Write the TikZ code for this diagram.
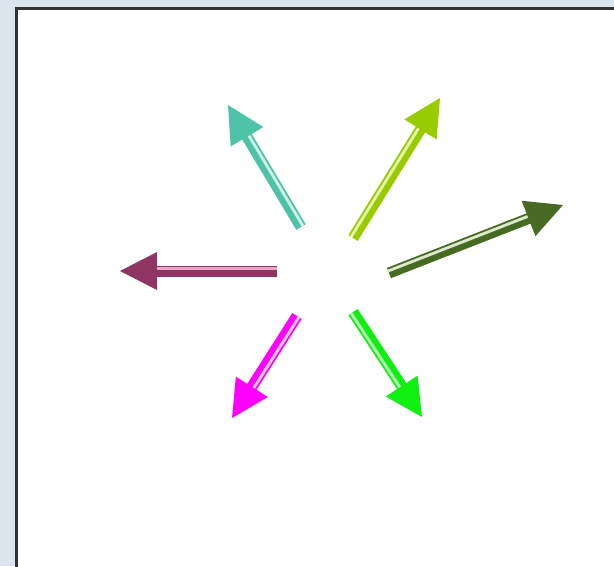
\documentclass[tikz,border=0pt]{standalone}
\usetikzlibrary{calc}
\definecolor{bgblue}{HTML}{DCE5EE}
\definecolor{framegray}{HTML}{333333}
\definecolor{cmaroon}{HTML}{8E3563}
\definecolor{smaroon}{HTML}{E9A6C8}
\definecolor{cteal}{HTML}{4EC3A8}
\definecolor{steal}{HTML}{CFF1E8}
\definecolor{clime}{HTML}{99CC00}
\definecolor{slime}{HTML}{E6F5B0}
\definecolor{cdark}{HTML}{476B23}
\definecolor{sdark}{HTML}{DDE9CF}
\definecolor{cmag}{HTML}{FF00FF}
\definecolor{smag}{HTML}{FFCCFF}
\definecolor{cgreen}{HTML}{11EE11}
\definecolor{sgreen}{HTML}{B8F8B8}
\tikzset{
  shaft/.style={line width=11pt, line cap=butt},
  stripe/.style={line width=2.8pt, line cap=butt},
  headtri/.style={draw=none},
  frame/.style={draw=framegray, line width=2.2pt, fill=white},
}
\begin{document}
\begin{tikzpicture}[x=1pt,y=-1pt]
\useasboundingbox (0,0) rectangle (614,566);
\clip (0,0) rectangle (614,566);
\fill[bgblue] (0,0) rectangle (614,566);
\path[frame] (16.5,8.5) rectangle (630,580);
\foreach \n/\tx/\ty/\hx/\hy/\c/\sc/\a in {
  1/277/271/120/271/cmaroon/smaroon/-90,
  2/301/227/228/105/cteal/steal/-90,
  3/353/238/440/98/clime/slime/90,
  4/389/273/563/205/cdark/sdark/90,
  5/297/316/232/418/cmag/smag/90,
  6/353/312/422/417/cgreen/sgreen/-90}{
  \coordinate (t\n) at (\tx,\ty);
  \coordinate (h\n) at (\hx,\hy);
  \coordinate (b\n) at ($(h\n)!37pt!(t\n)$);
  \coordinate (bb\n) at ($(h\n)!36pt!(t\n)$);
  \coordinate (l\n) at ($(b\n)!19pt!90:(h\n)$);
  \coordinate (r\n) at ($(b\n)!19pt!-90:(h\n)$);
  \coordinate (s\n) at ($(t\n)!2.2pt!\a:(h\n)$);
  \coordinate (e\n) at ($(bb\n)+(s\n)-(t\n)$);
  \draw[shaft, draw=\c] (t\n) -- (bb\n);
  \draw[stripe, draw=\sc] (s\n) -- (e\n);
  \fill[headtri, fill=\c] (h\n) -- (l\n) -- (r\n) -- cycle;
}
\end{tikzpicture}
\end{document}
